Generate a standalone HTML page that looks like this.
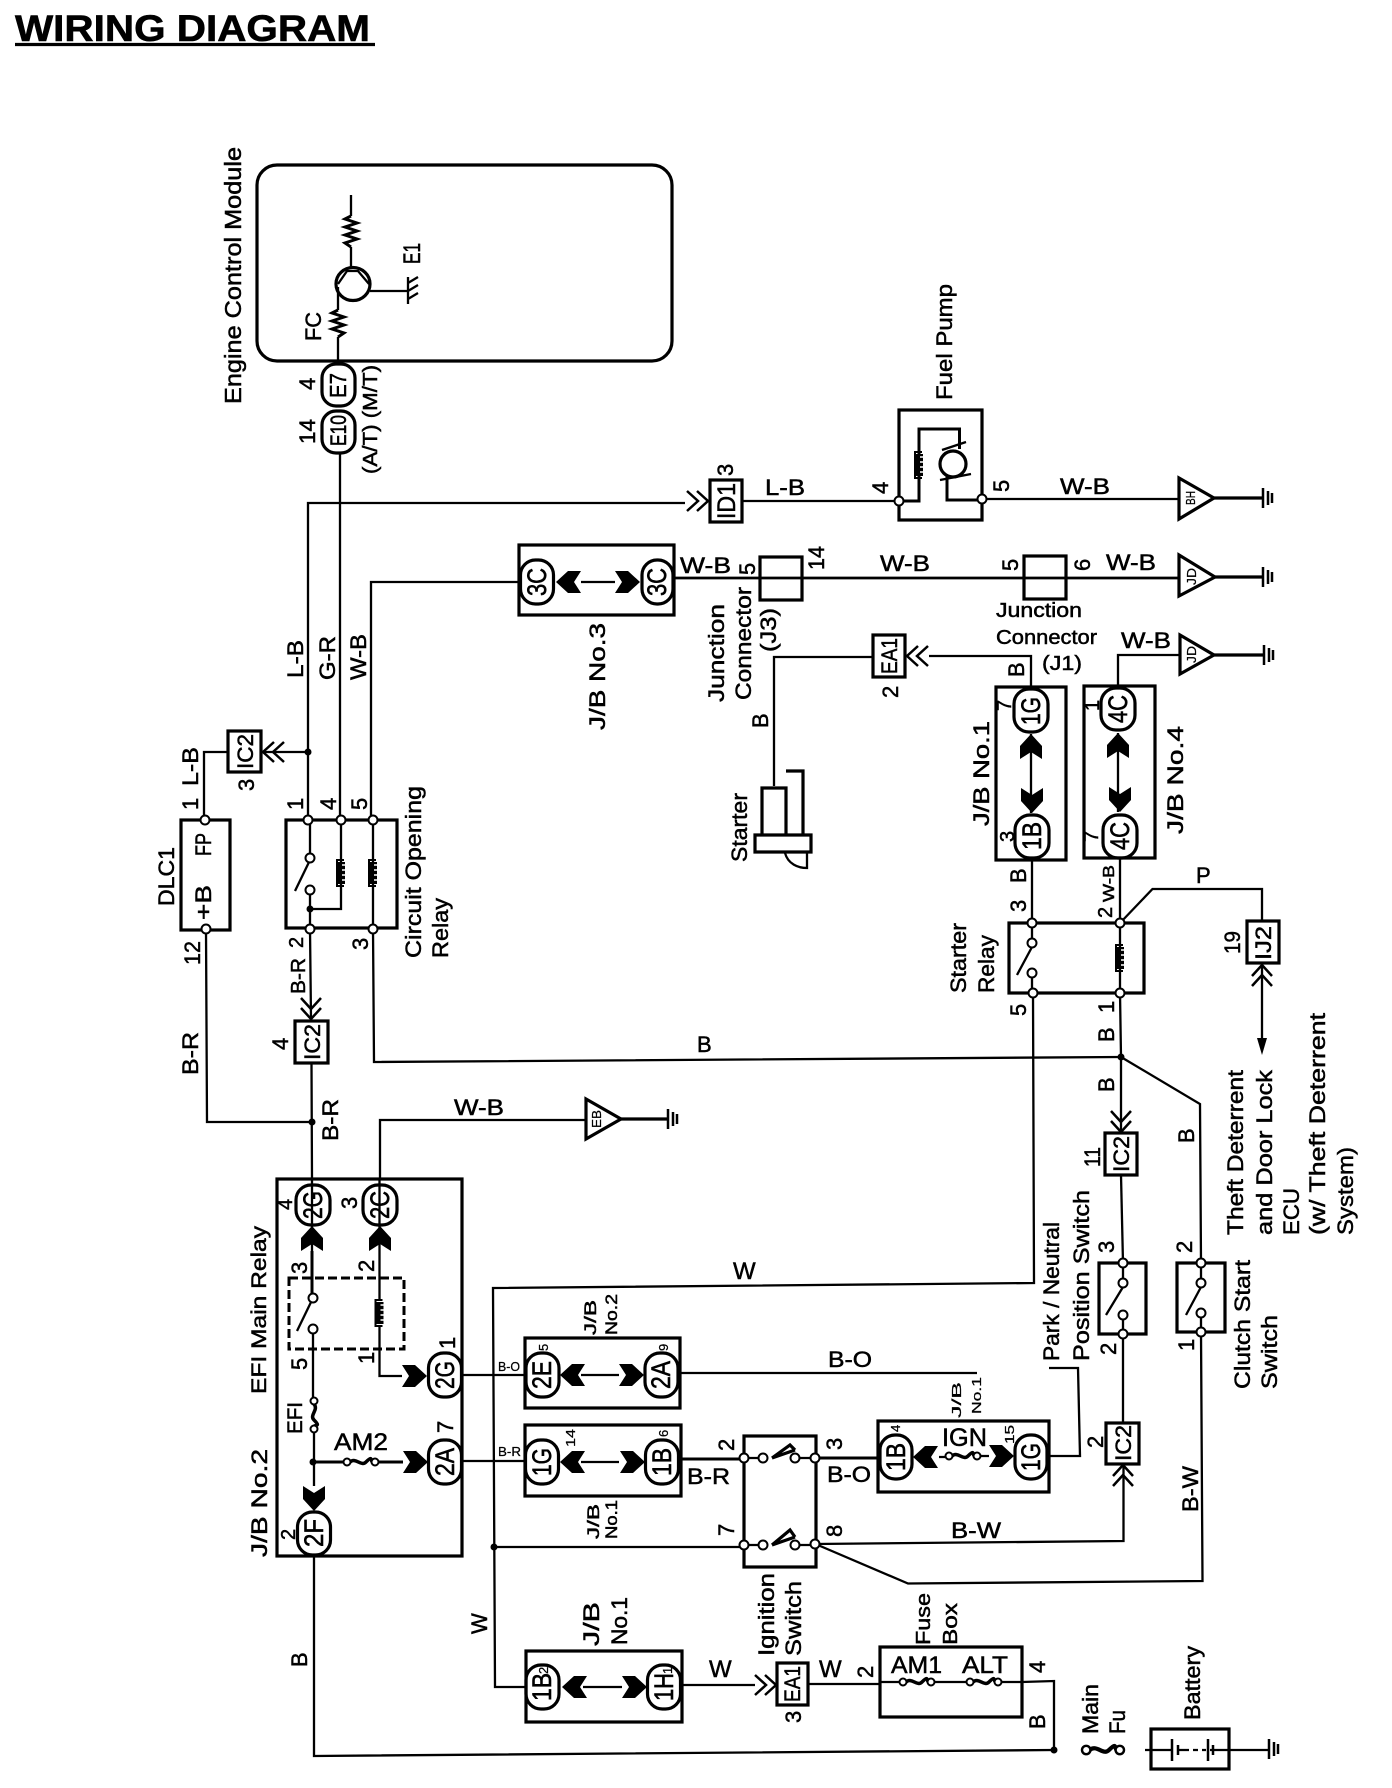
<!DOCTYPE html>
<html><head><meta charset="utf-8"><title>Wiring Diagram</title>
<style>
html,body{margin:0;padding:0;background:#fff}
svg{display:block}
text{font-family:"Liberation Sans",sans-serif;font-size:22px;fill:#000;stroke:#000;stroke-width:.5}
.s{font-size:13px;stroke-width:.25}
.m{font-size:20px}
.p{font-size:27px;stroke-width:.6}
.w{fill:none;stroke:#000;stroke-width:2.3}
.t{fill:none;stroke:#000;stroke-width:3.2}
</style></head><body>
<svg xmlns="http://www.w3.org/2000/svg" width="1392" height="1788" viewBox="0 0 1392 1788">
<defs>
<path id="fa" d="M-25-11H-12L0 0-12 11H-25L-18 0Z" fill="#000"/>
<path id="ch" d="M-11-10L0 0-11 10M-21-10L-10 0-21 10" fill="none" stroke="#000" stroke-width="2.5"/>
<path id="g" d="M0-10V10M5-7V7M9-5V5" fill="none" stroke="#000" stroke-width="2.5"/>
<g id="coil"><path d="M0-18V-13M0 13V18" stroke="#000" stroke-width="2"/><path d="M3-13H-4V13H3" fill="none" stroke="#000" stroke-width="2"/><rect x="-3" y="-11" width="7" height="22" fill="#000"/><path d="M1-8H4M1-3H4M1 2H4M1 7H4" stroke="#fff" stroke-width="1.500"/></g>
<circle id="c" r="4.500" fill="#fff" stroke="#000" stroke-width="2"/>
<circle id="d" r="3.500" fill="#000"/>
<g id="fh"><path d="M-11 0C-5-5 0 5 5 0S10-4 11 0" fill="none" stroke="#000" stroke-width="3.500"/><circle cx="-14" r="3.500" fill="#fff" stroke="#000" stroke-width="2"/><circle cx="14" r="3.500" fill="#fff" stroke="#000" stroke-width="2"/></g>
</defs>
<rect width="1392" height="1788" fill="#fff"/>

<!-- title -->
<text x="15" y="41" textLength="355" lengthAdjust="spacingAndGlyphs" style="font-size:37px;font-weight:bold;stroke-width:.6">WIRING DIAGRAM</text>
<path d="M15 44.500H375" class="t"/>

<!-- boxes -->
<g class="t">
<rect x="257" y="165" width="415" height="196" rx="20"/>
<rect x="519" y="545" width="155" height="70"/>
<rect x="899" y="410" width="83" height="110"/>
<rect x="760" y="557" width="42" height="43"/>
<rect x="1024" y="556" width="42" height="43"/>
<rect x="996" y="687" width="70" height="173"/>
<rect x="1084" y="686" width="71" height="172"/>
<rect x="181" y="820" width="49" height="110"/>
<rect x="286" y="820" width="111" height="108"/>
<rect x="1009" y="923" width="135" height="70"/>
<rect x="277" y="1179" width="185" height="377"/>
<rect x="525" y="1338" width="155" height="70"/>
<rect x="525" y="1425" width="156" height="71"/>
<rect x="526" y="1651" width="156" height="71"/>
<rect x="878" y="1421" width="171" height="71"/>
<rect x="744" y="1436" width="72" height="131"/>
<rect x="880" y="1647" width="142" height="70"/>
<rect x="1099" y="1263" width="47" height="71"/>
<rect x="1177" y="1263" width="48" height="69"/>
<rect x="1151" y="1729" width="78" height="40"/>
<!-- small connector boxes -->
<rect x="228" y="731" width="33" height="41"/>
<rect x="295" y="1021" width="33" height="42"/>
<rect x="1105" y="1133" width="32" height="42"/>
<rect x="1106" y="1423" width="33" height="41"/>
<rect x="710" y="480" width="32" height="42"/>
<rect x="873" y="635" width="32" height="42"/>
<rect x="777" y="1663" width="31" height="42"/>
<rect x="1247" y="921" width="32" height="42"/>
<!-- pills -->
<rect x="322" y="364" width="33" height="42" rx="14"/>
<rect x="322" y="411" width="33" height="42" rx="14"/>
<rect x="520.500" y="560" width="33" height="44" rx="15"/>
<rect x="642" y="560" width="31" height="44" rx="15"/>
<rect x="1014" y="689" width="34" height="43" rx="15"/>
<rect x="1101" y="688" width="34" height="42" rx="15"/>
<rect x="1015" y="815" width="34" height="43" rx="15"/>
<rect x="1103" y="815" width="34" height="43" rx="15"/>
<rect x="296" y="1185" width="34" height="40" rx="15"/>
<rect x="363" y="1185" width="34" height="40" rx="15"/>
<rect x="297.500" y="1512" width="33" height="43" rx="15"/>
<rect x="428.500" y="1353" width="33" height="44" rx="15"/>
<rect x="428.500" y="1440" width="33" height="44" rx="15"/>
<rect x="526" y="1353" width="33" height="44" rx="15"/>
<rect x="645" y="1353" width="33" height="44" rx="15"/>
<rect x="525.500" y="1440" width="33" height="44" rx="15"/>
<rect x="645.500" y="1440" width="33" height="44" rx="15"/>
<rect x="526" y="1665" width="33" height="44" rx="15"/>
<rect x="647.500" y="1665" width="33" height="44" rx="15"/>
<rect x="880" y="1435" width="32" height="44" rx="15"/>
<rect x="1015" y="1435" width="32" height="44" rx="15"/>
</g>
<rect x="289" y="1278" width="115" height="71" fill="none" stroke="#000" stroke-width="3" stroke-dasharray="9 4"/>

<!-- wires -->
<g class="w">
<path d="M351 195V216M351 247V268M338 287V310M338 337V361M370 291H408"/>
<path d="M351 216l-6 3 12 4-12 4 12 4-12 4 12 4-12 4 6 4" stroke-width="3"/>
<path d="M338 310l-6 3 12 4-12 4 12 4-12 4 12 4-6 4" stroke-width="3"/>
<path d="M340 453V820M308 820V503H685M371 820V582H520" />
<path d="M742 501H899M982 499H1179" />
<path d="M673 578H1179" style="stroke-width:2.800"/>
<path d="M774 786V657H873M929 656H1031V687M1118 686V655H1180"/>
<path d="M581 582H615M1031 734V813M1118 733V812"/>
<path d="M308 752H263M228 752H204V820"/>
<path d="M206 930L207 1122H312"/>
<path d="M310 929L311 1019M311.500 1063L312 1179"/>
<path d="M373 929L374 1062L1121 1057"/>
<path d="M380 1179V1120H586"/>
<path d="M1032 860V923M1120 858V923"/>
<path d="M1120 923L1152.500 889H1262V921"/>
<path d="M1262 963V1047"/>
<path d="M1033 993L1034 1283L493 1288L495 1687H526"/>
<path d="M1120 993L1121 1057L1121 1132M1121 1057L1200 1104L1201 1263"/>
<path d="M1121 1175L1123 1263"/>
<path d="M1123 1334V1423"/>
<path d="M1201 1332L1202.500 1581L908 1583.500L815.500 1544"/>
<path d="M815.500 1544L1123.500 1541V1465"/>
<path d="M462 1375H525M680 1373H977"/>
<path d="M1049 1368H1078L1080 1456H1049"/>
<path d="M462 1461H525M494 1547H744"/>
<path d="M681 1459H744M816 1458H878" style="stroke-width:3"/>
<path d="M682 1685H755M808 1684H880"/>
<path d="M880 1682H899M935 1682H966M1002 1682H1022L1054 1681V1750"/>
<path d="M314 1556V1756L1054 1750"/>
<path d="M581 1375H619M581 1462H619M583 1687H622M939 1457H945M989 1456H981"/>
<!-- EFI internals -->
<path d="M312 1179V1298M379.500 1179V1300M379.500 1327V1376H402M313 1329V1397M314 1433V1486M314 1462H344M378 1462H403"/>
<path d="M312 1251V1294" style="stroke-width:3"/>
<path d="M314 1462H344M378 1462H403" style="stroke-width:3"/>
<!-- ignition -->
<path d="M744 1458H758M799 1458H815M744 1545H758M799 1545H815"/>
<!-- switches -->
<path d="M310 820V853M310 894V929M310 909H341V820M373 820V929M311 858L295 891" />
<path d="M1032 923V939M1032 977V993M1032 947L1017 975M1120 923V993"/>
<path d="M1123 1263V1279M1123 1319V1334M1123 1287L1106 1315"/>
<path d="M1201 1263V1279M1201 1317V1332M1201 1287L1186 1315"/>
<path d="M313 1298L297 1331"/>
<!-- fuel pump -->
<path d="M899 501H919V429H959.500V449M947 476V500H982" stroke-width="3"/>
<path d="M942 450L966 442M940 480L971 474"/>
<!-- battery -->
<path d="M1145 1750H1172M1178 1750H1184M1210 1750H1268"/>
<path d="M1184 1750H1206" stroke-dasharray="5 4"/>
<path d="M1172 1739V1761M1178 1745V1755M1208 1739V1761M1213 1745V1755" style="stroke-width:2.500"/>
<!-- ecu ground -->
<path d="M408 277V304M408 283L418 277M408 291L418 285M408 299L418 293"/>
</g>
<ellipse cx="353" cy="284" rx="17" ry="16.500" class="t"/>
<path d="M338 284L347 271H358L369 284" class="w"/>
<path d="M1262 1055L1257 1038H1267Z"/>

<!-- starter -->
<path class="t" d="M762 835V788H786V835M786 771H803V835M755 835H811V852H755Z"/>
<path class="w" d="M785 853C788 864 798 868 807 868V853"/>

<!-- triangles -->
<g class="t">
<path d="M1179 478V519L1214 498Z"/>
<path d="M1179 555V596L1215 577Z"/>
<path d="M1180 635V674L1214 655Z"/>
<path d="M586 1099V1139L621 1119Z"/>
</g>
<path class="t" d="M1214 498H1263M1215 577H1263M1214 655H1264M621 1119H668"/>
<use href="#g" transform="translate(1263,498)"/>
<use href="#g" transform="translate(1263,577)"/>
<use href="#g" transform="translate(1264,655)"/>
<use href="#g" transform="translate(668,1119)"/>
<use href="#g" transform="translate(1269,1749)"/>

<!-- arrows -->
<use href="#fa" transform="translate(556,582) rotate(180)"/>
<use href="#fa" transform="translate(640,582)"/>
<use href="#fa" transform="translate(1031,734) rotate(-90)"/>
<use href="#fa" transform="translate(1032,813) rotate(90)"/>
<use href="#fa" transform="translate(1118,733) rotate(-90)"/>
<use href="#fa" transform="translate(1120,812) rotate(90)"/>
<use href="#fa" transform="translate(312,1226) rotate(-90)"/>
<use href="#fa" transform="translate(380,1226) rotate(-90)"/>
<use href="#fa" transform="translate(427,1376)"/>
<use href="#fa" transform="translate(428,1462)"/>
<use href="#fa" transform="translate(314,1511) rotate(90)"/>
<use href="#fa" transform="translate(560,1375) rotate(180)"/>
<use href="#fa" transform="translate(644,1375)"/>
<use href="#fa" transform="translate(560,1462) rotate(180)"/>
<use href="#fa" transform="translate(645,1462)"/>
<use href="#fa" transform="translate(562,1687) rotate(180)"/>
<use href="#fa" transform="translate(647,1687)"/>
<use href="#fa" transform="translate(913,1457) rotate(180)"/>
<use href="#fa" transform="translate(1014,1456)"/>
<use href="#ch" transform="translate(708,501)"/>
<use href="#ch" transform="translate(263,752) rotate(180)"/>
<use href="#ch" transform="translate(311,1019) rotate(90)"/>
<use href="#ch" transform="translate(907,656) rotate(180)"/>
<use href="#ch" transform="translate(1262,965) rotate(-90)"/>
<use href="#ch" transform="translate(1121,1132) rotate(90)"/>
<use href="#ch" transform="translate(1123,1465) rotate(-90)"/>
<use href="#ch" transform="translate(776,1685)"/>

<!-- coils -->
<use href="#coil" transform="translate(341,873)"/>
<use href="#coil" transform="translate(373,873)"/>
<use href="#coil" transform="translate(1120,958)"/>
<use href="#coil" transform="translate(379.500,1313)"/>
<use href="#coil" transform="translate(919,465)"/>
<circle cx="953" cy="464" r="13" class="t" fill="#fff" style="fill:#fff"/>

<!-- fuses -->
<use href="#fh" transform="translate(361,1462)"/>
<use href="#fh" transform="translate(314,1415) rotate(90)"/>
<use href="#fh" transform="translate(963,1456)"/>
<use href="#fh" transform="translate(917,1682)"/>
<use href="#fh" transform="translate(984,1682)"/>
<use href="#fh" transform="translate(1103,1750) scale(1.200)"/>
<g class="t"><path d="M772 1458L790 1445L795 1450M772 1458L795 1450"/><path d="M772 1545L790 1530L795 1537M772 1545L795 1537"/></g>

<!-- contacts -->
<g>
<use href="#c" transform="translate(205,820)"/><use href="#c" transform="translate(206,929)"/>
<use href="#c" transform="translate(308,820)"/><use href="#c" transform="translate(341,820)"/><use href="#c" transform="translate(373,820)"/>
<use href="#c" transform="translate(310,929)"/><use href="#c" transform="translate(373,929)"/>
<use href="#c" transform="translate(310,858)"/><use href="#c" transform="translate(310,890)"/>
<use href="#c" transform="translate(899,501)"/><use href="#c" transform="translate(982,499)"/>
<use href="#c" transform="translate(1032,923)"/><use href="#c" transform="translate(1120,923)"/>
<use href="#c" transform="translate(1033,993)"/><use href="#c" transform="translate(1120,993)"/>
<use href="#c" transform="translate(1032,943)"/><use href="#c" transform="translate(1032,973)"/>
<use href="#c" transform="translate(1123,1263)"/><use href="#c" transform="translate(1123,1334)"/><use href="#c" transform="translate(1123,1283)"/><use href="#c" transform="translate(1123,1315)"/>
<use href="#c" transform="translate(1201,1263)"/><use href="#c" transform="translate(1201,1332)"/><use href="#c" transform="translate(1201,1283)"/><use href="#c" transform="translate(1201,1313)"/>
<use href="#c" transform="translate(313,1298)"/><use href="#c" transform="translate(313,1329)"/>
<use href="#c" transform="translate(744,1458)"/><use href="#c" transform="translate(815,1458)"/><use href="#c" transform="translate(744,1545)"/><use href="#c" transform="translate(815,1544)"/>
<use href="#c" transform="translate(763,1458)"/><use href="#c" transform="translate(795,1458)"/><use href="#c" transform="translate(763,1545)"/><use href="#c" transform="translate(795,1545)"/>
<use href="#d" transform="translate(308,752)"/><use href="#d" transform="translate(310,909)"/><use href="#d" transform="translate(312,1122)"/><use href="#d" transform="translate(1121,1057)"/><use href="#d" transform="translate(313,1462)"/><use href="#d" transform="translate(494,1547)"/><use href="#d" transform="translate(1054,1750)"/>
</g>

<!-- upright labels -->
<text x="765" y="495" textLength="40" lengthAdjust="spacingAndGlyphs">L-B</text>
<text x="1060" y="494" textLength="50" lengthAdjust="spacingAndGlyphs">W-B</text>
<text x="680" y="573" textLength="51" lengthAdjust="spacingAndGlyphs">W-B</text>
<text x="880" y="571" textLength="50" lengthAdjust="spacingAndGlyphs">W-B</text>
<text x="1106" y="570" textLength="50" lengthAdjust="spacingAndGlyphs">W-B</text>
<text x="1121" y="648" textLength="50" lengthAdjust="spacingAndGlyphs">W-B</text>
<text x="996" y="617" textLength="86" lengthAdjust="spacingAndGlyphs" class="m">Junction</text>
<text x="996" y="644" textLength="101" lengthAdjust="spacingAndGlyphs" class="m">Connector</text>
<text x="1042" y="670" textLength="40" lengthAdjust="spacingAndGlyphs" class="m">(J1)</text>
<text x="454" y="1115" textLength="50" lengthAdjust="spacingAndGlyphs">W-B</text>
<text x="697" y="1052">B</text>
<text x="1196" y="883">P</text>
<text x="733" y="1279" style="font-size:24px">W</text>
<text x="498" y="1371" textLength="22" lengthAdjust="spacingAndGlyphs" class="s">B-O</text>
<text x="498" y="1456" textLength="23" lengthAdjust="spacingAndGlyphs" class="s">B-R</text>
<text x="828" y="1367" textLength="44" lengthAdjust="spacingAndGlyphs">B-O</text>
<text x="827" y="1482" textLength="44" lengthAdjust="spacingAndGlyphs">B-O</text>
<text x="687" y="1484" textLength="43" lengthAdjust="spacingAndGlyphs">B-R</text>
<text x="951" y="1538" textLength="50" lengthAdjust="spacingAndGlyphs">B-W</text>
<text x="942" y="1446" textLength="45" lengthAdjust="spacingAndGlyphs" style="font-size:25px">IGN</text>
<text x="334" y="1450" textLength="54" lengthAdjust="spacingAndGlyphs" style="font-size:24px">AM2</text>
<text x="891" y="1673" textLength="51" lengthAdjust="spacingAndGlyphs" style="font-size:24px">AM1</text>
<text x="962" y="1673" textLength="46" lengthAdjust="spacingAndGlyphs" style="font-size:24px">ALT</text>
<text x="709" y="1677" style="font-size:24px">W</text>
<text x="819" y="1677" style="font-size:24px">W</text>

<!-- rotated labels -->
<text transform="translate(241,404)rotate(-90)" textLength="257" lengthAdjust="spacingAndGlyphs" style="font-size:23px">Engine Control Module</text>
<text transform="translate(420,264)rotate(-90)" textLength="21" lengthAdjust="spacingAndGlyphs" style="font-size:24px">E1</text>
<text transform="translate(321,341)rotate(-90)" textLength="29" lengthAdjust="spacingAndGlyphs">FC</text>
<text transform="translate(315,390)rotate(-90)">4</text>
<text transform="translate(315,444)rotate(-90)" textLength="25" lengthAdjust="spacingAndGlyphs">14</text>
<text transform="translate(377,474)rotate(-90)" textLength="109" lengthAdjust="spacingAndGlyphs" class="m">(A/T) (M/T)</text>
<text transform="translate(346,398)rotate(-90)" textLength="25" lengthAdjust="spacingAndGlyphs" style="font-size:23px">E7</text>
<text transform="translate(346,446)rotate(-90)" textLength="31" lengthAdjust="spacingAndGlyphs" style="font-size:22px">E10</text>
<text transform="translate(733,476)rotate(-90)">3</text>
<text transform="translate(888,494)rotate(-90)">4</text>
<text transform="translate(1009,492)rotate(-90)">5</text>
<text transform="translate(952,400)rotate(-90)" textLength="116" lengthAdjust="spacingAndGlyphs">Fuel Pump</text>
<text transform="translate(755,575)rotate(-90)">5</text>
<text transform="translate(824,570)rotate(-90)" textLength="24" lengthAdjust="spacingAndGlyphs">14</text>
<text transform="translate(1018,571)rotate(-90)">5</text>
<text transform="translate(1090,571)rotate(-90)">6</text>
<text transform="translate(724,702)rotate(-90)" textLength="98" lengthAdjust="spacingAndGlyphs">Junction</text>
<text transform="translate(751,700)rotate(-90)" textLength="113" lengthAdjust="spacingAndGlyphs">Connector</text>
<text transform="translate(776,652)rotate(-90)" textLength="44" lengthAdjust="spacingAndGlyphs">(J3)</text>
<text transform="translate(768,728)rotate(-90)">B</text>
<text transform="translate(1024,677)rotate(-90)">B</text>
<text transform="translate(898,698)rotate(-90)">2</text>
<text transform="translate(989,826)rotate(-90)" textLength="105" lengthAdjust="spacingAndGlyphs">J/B No.1</text>
<text transform="translate(1183,834)rotate(-90)" textLength="108" lengthAdjust="spacingAndGlyphs">J/B No.4</text>
<text transform="translate(605,730)rotate(-90)" textLength="107" lengthAdjust="spacingAndGlyphs">J/B No.3</text>
<text transform="translate(747,862)rotate(-90)" textLength="69" lengthAdjust="spacingAndGlyphs">Starter</text>
<text transform="translate(1011,711)rotate(-90)" class="m">7</text>
<text transform="translate(1099,711)rotate(-90)" class="m">1</text>
<text transform="translate(1014,842)rotate(-90)" class="m">3</text>
<text transform="translate(1098,842)rotate(-90)" class="m">7</text>
<text transform="translate(198,786)rotate(-90)" textLength="39" lengthAdjust="spacingAndGlyphs">L-B</text>
<text transform="translate(198,810)rotate(-90)">1</text>
<text transform="translate(254,791)rotate(-90)">3</text>
<text transform="translate(174,906)rotate(-90)" textLength="59" lengthAdjust="spacingAndGlyphs">DLC1</text>
<text transform="translate(211,856)rotate(-90)" textLength="23" lengthAdjust="spacingAndGlyphs">FP</text>
<text transform="translate(211,920)rotate(-90)" textLength="35" lengthAdjust="spacingAndGlyphs">+B</text>
<text transform="translate(200,965)rotate(-90)" textLength="24" lengthAdjust="spacingAndGlyphs">12</text>
<text transform="translate(198,1075)rotate(-90)" textLength="43" lengthAdjust="spacingAndGlyphs">B-R</text>
<text transform="translate(303,678)rotate(-90)" textLength="38" lengthAdjust="spacingAndGlyphs">L-B</text>
<text transform="translate(335,680)rotate(-90)" textLength="44" lengthAdjust="spacingAndGlyphs">G-R</text>
<text transform="translate(366,680)rotate(-90)" textLength="46" lengthAdjust="spacingAndGlyphs">W-B</text>
<text transform="translate(303,810)rotate(-90)">1</text>
<text transform="translate(336,810)rotate(-90)">4</text>
<text transform="translate(367,810)rotate(-90)">5</text>
<text transform="translate(303,948)rotate(-90)" class="m">2</text>
<text transform="translate(305,994)rotate(-90)" textLength="36" lengthAdjust="spacingAndGlyphs" class="m">B-R</text>
<text transform="translate(368,950)rotate(-90)">3</text>
<text transform="translate(421,958)rotate(-90)" textLength="172" lengthAdjust="spacingAndGlyphs">Circuit Opening</text>
<text transform="translate(448,958)rotate(-90)" textLength="60" lengthAdjust="spacingAndGlyphs">Relay</text>
<text transform="translate(288,1050)rotate(-90)">4</text>
<text transform="translate(338,1141)rotate(-90)" textLength="42" lengthAdjust="spacingAndGlyphs">B-R</text>
<text transform="translate(1026,912)rotate(-90)">3</text>
<text transform="translate(1026,883)rotate(-90)">B</text>
<text transform="translate(1112,918)rotate(-90)" class="m">2</text>
<text transform="translate(1114,902)rotate(-90)" textLength="37" lengthAdjust="spacingAndGlyphs" style="font-size:16px">W-B</text>
<text transform="translate(1240,954)rotate(-90)" textLength="23" lengthAdjust="spacingAndGlyphs">19</text>
<text transform="translate(966,993)rotate(-90)" textLength="70" lengthAdjust="spacingAndGlyphs">Starter</text>
<text transform="translate(994,993)rotate(-90)" textLength="58" lengthAdjust="spacingAndGlyphs">Relay</text>
<text transform="translate(1026,1016)rotate(-90)">5</text>
<text transform="translate(1114,1013)rotate(-90)">1</text>
<text transform="translate(1114,1042)rotate(-90)">B</text>
<text transform="translate(1114,1092)rotate(-90)">B</text>
<text transform="translate(1100,1167)rotate(-90)" textLength="20" lengthAdjust="spacingAndGlyphs">11</text>
<text transform="translate(1194,1143)rotate(-90)">B</text>
<text transform="translate(1243,1235)rotate(-90)" textLength="165" lengthAdjust="spacingAndGlyphs">Theft Deterrent</text>
<text transform="translate(1272,1235)rotate(-90)" textLength="165" lengthAdjust="spacingAndGlyphs">and Door Lock</text>
<text transform="translate(1299,1235)rotate(-90)" textLength="47" lengthAdjust="spacingAndGlyphs">ECU</text>
<text transform="translate(1325,1235)rotate(-90)" textLength="222" lengthAdjust="spacingAndGlyphs">(w/ Theft Deterrent</text>
<text transform="translate(1353,1235)rotate(-90)" textLength="88" lengthAdjust="spacingAndGlyphs">System)</text>
<text transform="translate(1114,1253)rotate(-90)">3</text>
<text transform="translate(1192,1253)rotate(-90)">2</text>
<text transform="translate(1116,1355)rotate(-90)">2</text>
<text transform="translate(1194,1351)rotate(-90)">1</text>
<text transform="translate(1059,1361)rotate(-90)" textLength="139" lengthAdjust="spacingAndGlyphs">Park / Neutral</text>
<text transform="translate(1089,1361)rotate(-90)" textLength="171" lengthAdjust="spacingAndGlyphs">Position Switch</text>
<text transform="translate(1250,1389)rotate(-90)" textLength="129" lengthAdjust="spacingAndGlyphs">Clutch Start</text>
<text transform="translate(1277,1389)rotate(-90)" textLength="74" lengthAdjust="spacingAndGlyphs">Switch</text>
<text transform="translate(961,1418)rotate(-90)" textLength="36" lengthAdjust="spacingAndGlyphs" class="s">J/B</text>
<text transform="translate(981,1414)rotate(-90)" textLength="37" lengthAdjust="spacingAndGlyphs" class="s">No.1</text>
<text transform="translate(1014,1444)rotate(-90)" class="s" textLength="19" lengthAdjust="spacingAndGlyphs">15</text>
<text transform="translate(900,1432)rotate(-90)" class="s">4</text>
<text transform="translate(1103,1448)rotate(-90)">2</text>
<text transform="translate(1198,1512)rotate(-90)" textLength="46" lengthAdjust="spacingAndGlyphs">B-W</text>
<text transform="translate(292,1210)rotate(-90)" class="m">4</text>
<text transform="translate(357,1209)rotate(-90)">3</text>
<text transform="translate(307,1274)rotate(-90)">3</text>
<text transform="translate(374,1272)rotate(-90)">2</text>
<text transform="translate(374,1364)rotate(-90)">1</text>
<text transform="translate(307,1370)rotate(-90)">5</text>
<text transform="translate(455,1349)rotate(-90)">1</text>
<text transform="translate(453,1433)rotate(-90)">7</text>
<text transform="translate(295,1540)rotate(-90)" class="m">2</text>
<text transform="translate(302,1434)rotate(-90)" textLength="32" lengthAdjust="spacingAndGlyphs" style="font-size:21px">EFI</text>
<text transform="translate(266,1394)rotate(-90)" textLength="168" lengthAdjust="spacingAndGlyphs" style="font-size:21px">EFI Main Relay</text>
<text transform="translate(267,1557)rotate(-90)" textLength="108" lengthAdjust="spacingAndGlyphs">J/B No.2</text>
<text transform="translate(307,1667)rotate(-90)">B</text>
<text transform="translate(487,1634)rotate(-90)">W</text>
<text transform="translate(596,1335)rotate(-90)" textLength="35" lengthAdjust="spacingAndGlyphs" style="font-size:17px">J/B</text>
<text transform="translate(617,1335)rotate(-90)" textLength="41" lengthAdjust="spacingAndGlyphs" style="font-size:17px">No.2</text>
<text transform="translate(548,1351)rotate(-90)" class="s">5</text>
<text transform="translate(668,1351)rotate(-90)" class="s">9</text>
<text transform="translate(575,1447)rotate(-90)" class="s" textLength="18" lengthAdjust="spacingAndGlyphs">14</text>
<text transform="translate(668,1437)rotate(-90)" class="s">6</text>
<text transform="translate(734,1451)rotate(-90)">2</text>
<text transform="translate(734,1536)rotate(-90)">7</text>
<text transform="translate(842,1450)rotate(-90)">3</text>
<text transform="translate(842,1537)rotate(-90)">8</text>
<text transform="translate(599,1539)rotate(-90)" textLength="35" lengthAdjust="spacingAndGlyphs" style="font-size:17px">J/B</text>
<text transform="translate(617,1539)rotate(-90)" textLength="39" lengthAdjust="spacingAndGlyphs" style="font-size:17px">No.1</text>
<text transform="translate(774,1656)rotate(-90)" textLength="83" lengthAdjust="spacingAndGlyphs">Ignition</text>
<text transform="translate(801,1656)rotate(-90)" textLength="75" lengthAdjust="spacingAndGlyphs">Switch</text>
<text transform="translate(599,1646)rotate(-90)" textLength="44" lengthAdjust="spacingAndGlyphs">J/B</text>
<text transform="translate(627,1645)rotate(-90)" textLength="48" lengthAdjust="spacingAndGlyphs">No.1</text>
<text transform="translate(548,1674)rotate(-90)" class="s">2</text>
<text transform="translate(672,1674)rotate(-90)" class="s">1</text>
<text transform="translate(801,1723)rotate(-90)">3</text>
<text transform="translate(873,1678)rotate(-90)">2</text>
<text transform="translate(1045,1673)rotate(-90)">4</text>
<text transform="translate(1045,1729)rotate(-90)">B</text>
<text transform="translate(930,1645)rotate(-90)" textLength="52" lengthAdjust="spacingAndGlyphs" style="font-size:20px">Fuse</text>
<text transform="translate(957,1645)rotate(-90)" textLength="42" lengthAdjust="spacingAndGlyphs" style="font-size:20px">Box</text>
<text transform="translate(1098,1734)rotate(-90)" textLength="50" lengthAdjust="spacingAndGlyphs">Main</text>
<text transform="translate(1125,1734)rotate(-90)" textLength="24" lengthAdjust="spacingAndGlyphs">Fu</text>
<text transform="translate(1200,1720)rotate(-90)" textLength="74" lengthAdjust="spacingAndGlyphs">Battery</text>

<!-- connector text -->
<text transform="translate(546,596)rotate(-90)" class="p" textLength="28" lengthAdjust="spacingAndGlyphs">3C</text>
<text transform="translate(666,596)rotate(-90)" class="p" textLength="28" lengthAdjust="spacingAndGlyphs">3C</text>
<text transform="translate(1040,725)rotate(-90)" class="p" textLength="28" lengthAdjust="spacingAndGlyphs">1G</text>
<text transform="translate(1127,723)rotate(-90)" class="p" textLength="28" lengthAdjust="spacingAndGlyphs">4C</text>
<text transform="translate(1041,850)rotate(-90)" class="p" textLength="28" lengthAdjust="spacingAndGlyphs">1B</text>
<text transform="translate(1129,850)rotate(-90)" class="p" textLength="28" lengthAdjust="spacingAndGlyphs">4C</text>
<text transform="translate(322,1219)rotate(-90)" class="p" textLength="28" lengthAdjust="spacingAndGlyphs">2G</text>
<text transform="translate(389,1219)rotate(-90)" class="p" textLength="28" lengthAdjust="spacingAndGlyphs">2C</text>
<text transform="translate(323,1547)rotate(-90)" class="p" textLength="28" lengthAdjust="spacingAndGlyphs">2F</text>
<text transform="translate(454,1389)rotate(-90)" class="p" textLength="28" lengthAdjust="spacingAndGlyphs">2G</text>
<text transform="translate(454,1476)rotate(-90)" class="p" textLength="28" lengthAdjust="spacingAndGlyphs">2A</text>
<text transform="translate(551,1389)rotate(-90)" class="p" textLength="28" lengthAdjust="spacingAndGlyphs">2E</text>
<text transform="translate(670,1389)rotate(-90)" class="p" textLength="28" lengthAdjust="spacingAndGlyphs">2A</text>
<text transform="translate(551,1476)rotate(-90)" class="p" textLength="28" lengthAdjust="spacingAndGlyphs">1G</text>
<text transform="translate(671,1476)rotate(-90)" class="p" textLength="28" lengthAdjust="spacingAndGlyphs">1B</text>
<text transform="translate(551,1701)rotate(-90)" class="p" textLength="28" lengthAdjust="spacingAndGlyphs">1B</text>
<text transform="translate(673,1701)rotate(-90)" class="p" textLength="28" lengthAdjust="spacingAndGlyphs">1H</text>
<text transform="translate(905,1471)rotate(-90)" class="p" textLength="28" lengthAdjust="spacingAndGlyphs">1B</text>
<text transform="translate(1040,1471)rotate(-90)" class="p" textLength="28" lengthAdjust="spacingAndGlyphs">1G</text>
<text transform="translate(253,769)rotate(-90)" textLength="35" lengthAdjust="spacingAndGlyphs">IC2</text>
<text transform="translate(320,1060)rotate(-90)" textLength="36" lengthAdjust="spacingAndGlyphs">IC2</text>
<text transform="translate(1129,1172)rotate(-90)" textLength="36" lengthAdjust="spacingAndGlyphs">IC2</text>
<text transform="translate(1131,1461)rotate(-90)" textLength="36" lengthAdjust="spacingAndGlyphs">IC2</text>
<text transform="translate(735,519)rotate(-90)" textLength="36" lengthAdjust="spacingAndGlyphs" style="font-size:25px">ID1</text>
<text transform="translate(897,674)rotate(-90)" textLength="36" lengthAdjust="spacingAndGlyphs">EA1</text>
<text transform="translate(800,1702)rotate(-90)" textLength="36" lengthAdjust="spacingAndGlyphs">EA1</text>
<text transform="translate(1271,960)rotate(-90)" textLength="34" lengthAdjust="spacingAndGlyphs">IJ2</text>
<text transform="translate(1195,505)rotate(-90)" class="s" textLength="14" lengthAdjust="spacingAndGlyphs">BH</text>
<text transform="translate(1196,585)rotate(-90)" class="s" textLength="17" lengthAdjust="spacingAndGlyphs">JD</text>
<text transform="translate(1196,663)rotate(-90)" class="s" textLength="17" lengthAdjust="spacingAndGlyphs">JD</text>
<text transform="translate(601,1128)rotate(-90)" class="s" textLength="18" lengthAdjust="spacingAndGlyphs">EB</text>
</svg>
</body></html>
